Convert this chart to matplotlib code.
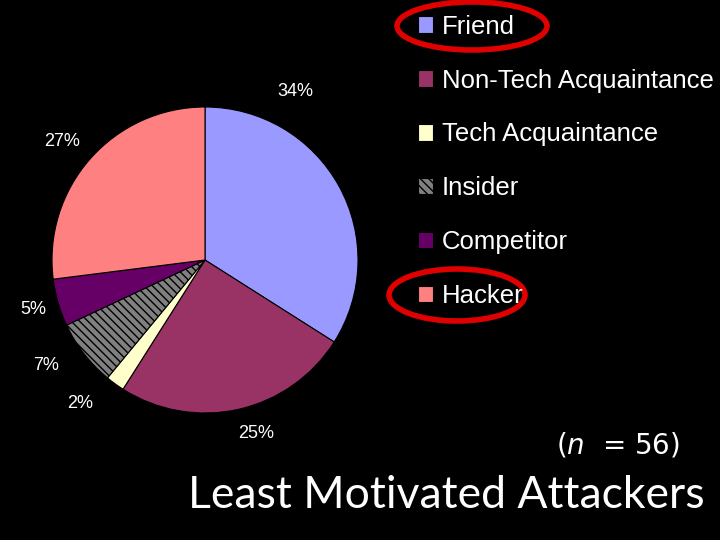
import matplotlib.pyplot as plt
from matplotlib.patches import Ellipse

# datos del grafico
categorias = ['Friend', 'Non-Tech Acquaintance', 'Tech Acquaintance',
              'Insider', 'Competitor', 'Hacker']
porcentajes = [34, 25, 2, 7, 5, 27]
etiquetas = ['34%', '25%', '2%', '7%', '5%', '27%']
colores = ['#9999FF', '#993366', '#FFFFCC', '#808080', '#660066', '#FF8080']

fig = plt.figure(figsize=(7.2, 5.4), dpi=100, facecolor='black')
ax = fig.add_axes([0, 0, 1, 1])
ax.set_facecolor('black')

centro = (205, 280)
wedges, _ = ax.pie(porcentajes, colors=colores, startangle=90, counterclock=False,
                   center=centro, radius=153, frame=True,
                   wedgeprops=dict(edgecolor='black', linewidth=0.8))
ax.set_xlim(0, 720)
ax.set_ylim(0, 540)
ax.set_aspect('equal')
ax.axis('off')

# relleno rayado para Insider
wedges[3].set_hatch('\\\\\\\\')
wedges[3].set_edgecolor('black')

# posiciones de las etiquetas (estilo Excel, fuera del pastel)
pos_etiquetas = [(295, 448), (256, 107), (80, 136), (46, 174), (33, 231), (62, 399)]
for txt, (x, y) in zip(etiquetas, pos_etiquetas):
    ax.text(x, y, txt, color='white', fontsize=13, ha='center', va='center',
            family='Liberation Sans')

leg = ax.legend(wedges, categorias, loc='upper left', bbox_to_anchor=(0.58, 0.973),
                frameon=False, borderpad=0, borderaxespad=0,
                handlelength=0.6, handleheight=0.6, handletextpad=0.35,
                labelspacing=1.165, prop={'family': 'Liberation Sans', 'size': 18.5})
for t in leg.get_texts():
    t.set_color('white')

# ovalos rojos
ax.add_patch(Ellipse((472, 514), 150, 48, fill=False, edgecolor='#E00000', linewidth=4))
ax.add_patch(Ellipse((457, 245), 136, 52, fill=False, edgecolor='#E00000', linewidth=4))

ax.text(618, 95, r'($n$  = 56)', color='white', fontsize=20, ha='center', va='center',
        family='DejaVu Sans')
ax.text(446, 44, 'Least Motivated Attackers', color='white', fontsize=32,
        ha='center', va='center', family='Lato')

plt.savefig('out.png', dpi=100, facecolor='black')
